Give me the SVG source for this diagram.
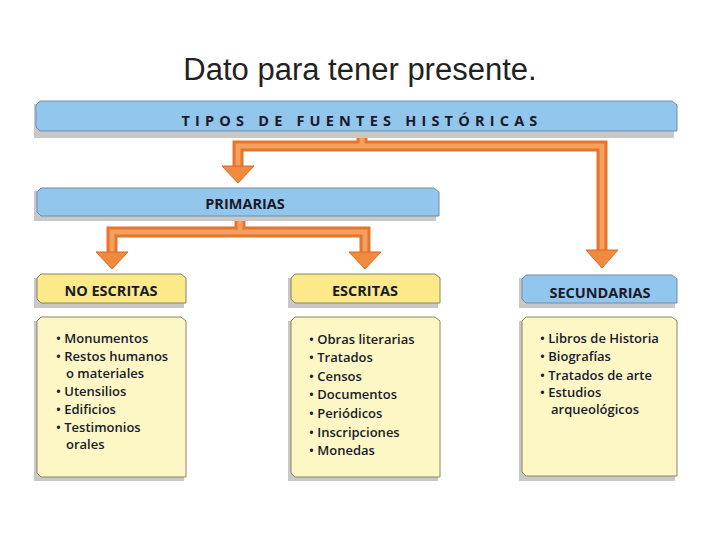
<svg xmlns="http://www.w3.org/2000/svg" width="720" height="540" viewBox="0 0 720 540">
<style>
.t{font-family:"Liberation Sans",Arial,sans-serif;fill:#222}
.h{font-family:"Open Sans","Liberation Sans",sans-serif;font-weight:bold;font-size:14.5px;fill:#1a1a2a;text-anchor:middle}
.b{font-family:"Open Sans","Liberation Sans",sans-serif;font-size:13px;fill:#1a1a2a;font-weight:600}
.blue{fill:#93c6ec;stroke:#6a8fb0;stroke-width:1}
.yel{fill:#fbe98a;stroke:#8a8460;stroke-width:1}
.pale{fill:#fdf7c6;stroke:#8a8460;stroke-width:1}
.sh{fill:#c8c8c8}
.ao{fill:none;stroke:#e5752c;stroke-width:11;stroke-linejoin:miter}
.ai{fill:none;stroke:#f5a05e;stroke-width:5;stroke-linejoin:miter}
.hd{fill:#f08a3c;stroke:#d9692a;stroke-width:1}
</style>
<text x="360" y="80" class="t" font-size="31" text-anchor="middle" font-family="Carlito,'Open Sans','Liberation Sans',sans-serif">Dato para tener presente.</text>
<g id="connectors">
<path class="ao" d="M362 134 V146 H238 V168 M362 146 H602 V252"/>
<path class="ai" d="M362 134 V146 H238 V168 M362 146 H602 V252"/>
<polygon class="hd" points="222,166 254,166 238,183"/>
<polygon class="hd" points="586,250 618,250 602,268"/>
<path class="ao" d="M240 218 V232 H112 V254 M240 232 H365 V254"/>
<path class="ai" d="M240 218 V232 H112 V254 M240 232 H365 V254"/>
<polygon class="hd" points="96,252 128,252 112,269"/>
<polygon class="hd" points="349,252 381,252 365,269"/>
</g>
<g id="tipos">
<rect class="sh" x="34" y="104" width="640" height="34"/>
<path class="blue" d="M40 101 H672 L677 105 V131 H40 L36 127 V105 Z"/>
<text x="362" y="126" class="h" font-size="15" letter-spacing="5.2">TIPOS DE FUENTES HISTÓRICAS</text>
</g>
<g id="primarias">
<rect class="sh" x="34" y="191" width="402" height="30"/>
<path class="blue" d="M41 188 H434 L439 192 V216 H41 L37 212 V192 Z"/>
<text x="245" y="209" class="h">PRIMARIAS</text>
</g>
<g id="noescritas">
<rect class="sh" x="34" y="278" width="150" height="30"/>
<path class="yel" d="M41 274 H181 L186 278 V303 H41 L37 299 V278 Z"/>
<text x="111" y="296" class="h">NO ESCRITAS</text>
</g>
<g id="escritas">
<rect class="sh" x="288" y="278" width="150" height="30"/>
<path class="yel" d="M295 274 H435 L440 278 V303 H295 L291 299 V278 Z"/>
<text x="365" y="296" class="h">ESCRITAS</text>
</g>
<g id="secundarias">
<rect class="sh" x="519" y="278" width="156" height="30"/>
<path class="blue" d="M526 275 H672 L677 279 V303 H526 L522 299 V279 Z"/>
<text x="600" y="298" class="h">SECUNDARIAS</text>
</g>
<g id="lista-noescritas">
<rect class="sh" x="34" y="321" width="150" height="160"/>
<path class="pale" d="M41 317 H181 L186 321 V477 H41 L37 473 V321 Z"/>
<text class="b" x="56" y="343">• Monumentos</text>
<text class="b" x="56" y="361">• Restos humanos</text>
<text class="b" x="66" y="378">o materiales</text>
<text class="b" x="56" y="396">• Utensilios</text>
<text class="b" x="56" y="414">• Edificios</text>
<text class="b" x="56" y="432">• Testimonios</text>
<text class="b" x="66" y="449">orales</text>
</g>
<g id="lista-escritas">
<rect class="sh" x="288" y="321" width="150" height="160"/>
<path class="pale" d="M295 317 H435 L440 321 V477 H295 L291 473 V321 Z"/>
<text class="b" x="309" y="344">• Obras literarias</text>
<text class="b" x="309" y="362">• Tratados</text>
<text class="b" x="309" y="381">• Censos</text>
<text class="b" x="309" y="399">• Documentos</text>
<text class="b" x="309" y="418">• Periódicos</text>
<text class="b" x="309" y="437">• Inscripciones</text>
<text class="b" x="309" y="455">• Monedas</text>
</g>
<g id="lista-secundarias">
<rect class="sh" x="519" y="321" width="156" height="160"/>
<path class="pale" d="M526 317 H672 L677 321 V476 H526 L522 472 V321 Z"/>
<text class="b" x="540" y="343">• Libros de Historia</text>
<text class="b" x="540" y="361">• Biografías</text>
<text class="b" x="540" y="380">• Tratados de arte</text>
<text class="b" x="540" y="397">• Estudios</text>
<text class="b" x="551" y="414">arqueológicos</text>
</g>
</svg>
